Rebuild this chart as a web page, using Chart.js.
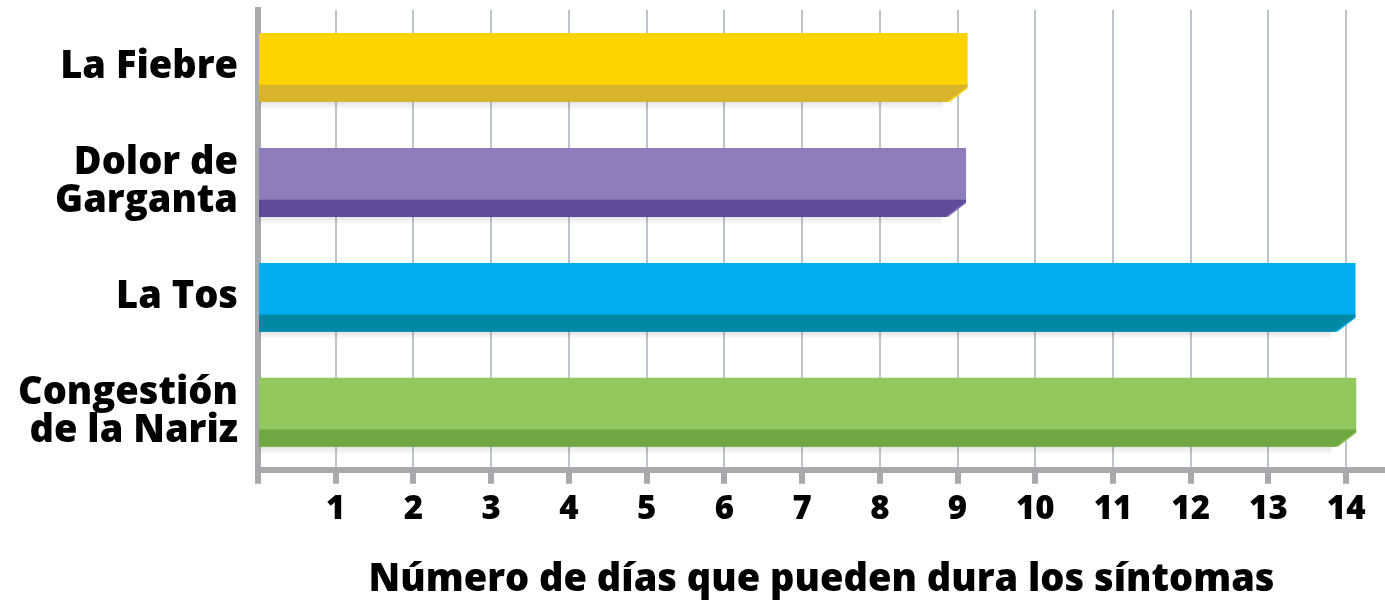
<!DOCTYPE html>
<html><head><meta charset="utf-8">
<script src="https://cdn.jsdelivr.net/npm/chart.js@4.4.1/dist/chart.umd.min.js"></script>
<style>html,body{margin:0;padding:0;background:#fff;overflow:hidden}</style>
</head><body>
<canvas id="c" width="1385" height="605"></canvas>
<script>
const categories = [["La Fiebre"], ["Dolor de", "Garganta"], ["La Tos"], ["Congestión", "de la Nariz"]];
const dayValues = [9.13, 9.11, 14.12, 14.13];
const tickValues = [1, 2, 3, 4, 5, 6, 7, 8, 9, 10, 11, 12, 13, 14];
const faceColors = ['#FDD400', '#8E7CBB', '#00AEEF', '#92C85E'];
const bandColors = ['#D8B52A', '#5F4A9C', '#0088A4', '#6FA843'];
const axisTitle = 'Número de días que pueden dura los síntomas';

const FONT = '"Open Sans", "Liberation Sans", sans-serif';

function barGeom(bar) {
  const p = bar.getProps(['x', 'y', 'base', 'height'], true);
  const top = p.y - p.height / 2, bottom = p.y + p.height / 2;
  const bandTop = bottom - p.height * 0.25;
  const cham = p.height * 0.3;
  return { x: p.x, base: p.base, top, bottom, bandTop, cham };
}

const bevel = {
  id: 'bevel',
  beforeDatasetDraw(chart, args) {
    const ctx = chart.ctx;
    ctx.save();
    ctx.beginPath();
    ctx.rect(0, 0, chart.width, chart.height);
    args.meta.data.forEach(bar => {
      const g = barGeom(bar);
      ctx.moveTo(g.x + 2, g.bandTop + 2);
      ctx.lineTo(g.x + 2, g.bottom + 2);
      ctx.lineTo(g.x - g.cham, g.bottom + 2);
      ctx.closePath();
    });
    ctx.clip('evenodd');
  },
  afterDatasetDraw(chart) {
    chart.ctx.restore();
  },
  afterDatasetsDraw(chart) {
    const ctx = chart.ctx;
    const meta = chart.getDatasetMeta(0);
    meta.data.forEach((bar, i) => {
      const g = barGeom(bar);
      ctx.save();
      const sh = ctx.createLinearGradient(0, g.bottom, 0, g.bottom + 8);
      sh.addColorStop(0, 'rgba(0,0,0,0.10)');
      sh.addColorStop(1, 'rgba(0,0,0,0)');
      ctx.fillStyle = sh;
      ctx.fillRect(g.base, g.bottom, g.x - g.cham - g.base - 4, 8);
      ctx.fillStyle = bandColors[i];
      ctx.beginPath();
      ctx.moveTo(g.base, g.bandTop);
      ctx.lineTo(g.x, g.bandTop);
      ctx.lineTo(g.x, g.bandTop + 2);
      ctx.lineTo(g.x - g.cham, g.bottom);
      ctx.lineTo(g.base, g.bottom);
      ctx.closePath();
      ctx.fill();
      ctx.restore();
    });
  }
};

new Chart(document.getElementById('c'), {
  type: 'bar',
  data: {
    labels: categories,
    datasets: [{
      data: dayValues,
      backgroundColor: faceColors,
      borderWidth: 0,
      barPercentage: 0.6,
      categoryPercentage: 1
    }]
  },
  options: {
    indexAxis: 'y',
    responsive: false,
    devicePixelRatio: 1,
    animation: false,
    layout: { padding: { top: 10, left: 0, right: 0, bottom: 2 } },
    plugins: { legend: { display: false }, tooltip: { enabled: false } },
    scales: {
      x: {
        type: 'linear',
        min: 0,
        max: 14.5,
        afterBuildTicks: s => { s.ticks = [0].concat(tickValues).map(v => ({ value: v })); },
        afterFit: s => { s.paddingLeft = 0; s.paddingRight = 0; },
        ticks: {
          callback: v => (v === 0 ? '' : String(v)),
          font: { family: FONT, size: 33, weight: 800 },
          color: '#000',
          padding: 6,
          maxRotation: 0,
          autoSkip: false
        },
        grid: {
          color: c => (c.tick && c.tick.value === 0 ? 'rgba(0,0,0,0)' : '#BDC4CA'),
          lineWidth: 2,
          drawTicks: true,
          tickLength: 14,
          tickWidth: 6,
          tickColor: '#A7A9AC'
        },
        border: { display: true, color: '#A7A9AC', width: 6 },
        title: {
          display: true,
          text: axisTitle,
          color: '#000',
          font: { family: FONT, size: 38, weight: 800 },
          padding: { top: 22, bottom: 0 }
        }
      },
      y: {
        type: 'category',
        z: 1,
        afterFit: s => { s.width = 258; s.paddingTop = 0; s.paddingBottom = 0; },
        grid: { display: false, drawTicks: false },
        border: { display: true, color: '#A7A9AC', width: 6 },
        ticks: {
          color: '#000',
          padding: 20,
          font: { family: FONT, size: 38, weight: 800, lineHeight: 1.0 }
        }
      }
    }
  },
  plugins: [bevel]
});
</script>
</body></html>
